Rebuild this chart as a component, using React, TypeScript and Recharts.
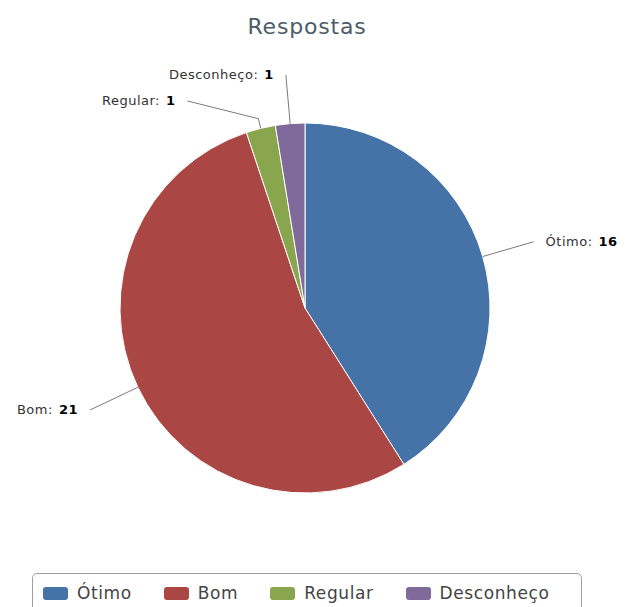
import { PieChart, Pie, Cell, Legend } from 'recharts';

const categories = ['Ótimo', 'Bom', 'Regular', 'Desconheço'];
const counts = [16, 21, 1, 1];
const colors = ['#4572A7', '#AA4643', '#89A54E', '#80699B'];

const data = categories.map((name, i) => ({ name, value: counts[i] }));

const RADIAN = Math.PI / 180;
const LABEL_DIST = 53; // distancia do rótulo além do raio
const LABEL_GAP = 26;
const LABEL_TOP = 75;

// posição dos rótulos no estilo Highcharts (evita sobreposição por lado)
function labelLayout(cx: number, cy: number, r: number) {
  const total = counts.reduce((a, b) => a + b, 0);
  const rr = r + LABEL_DIST;
  let acc = 0;
  const items = counts.map((v, i) => {
    const mid = 90 - ((acc + v / 2) / total) * 360;
    acc += v;
    const rad = -mid * RADIAN;
    return {
      i,
      left: Math.cos(rad) < 0,
      nx: cx + rr * Math.cos(rad),
      ny: cy + rr * Math.sin(rad),
      x: 0,
      y: 0,
    };
  });
  [true, false].forEach((side) => {
    const group = items.filter((it) => it.left === side).sort((a, b) => a.ny - b.ny);
    let prev = -Infinity;
    group.forEach((it) => {
      it.y = Math.max(it.ny, prev + LABEL_GAP, LABEL_TOP);
      prev = it.y;
      if (Math.abs(it.y - it.ny) > 10) {
        const dy = it.y - cy;
        const dx = Math.sqrt(Math.max(rr * rr - dy * dy, 0));
        it.x = side ? cx - dx : cx + dx;
      } else {
        it.x = it.nx;
      }
    });
  });
  return items;
}

const renderLabel = (props: any) => {
  const { cx, cy, midAngle, outerRadius, index, name, value } = props;
  const lay = labelLayout(cx, cy, outerRadius)[index];
  const rad = -midAngle * RADIAN;
  const ex = cx + outerRadius * Math.cos(rad);
  const ey = cy + outerRadius * Math.sin(rad);
  const bx = cx + (outerRadius + 10) * Math.cos(rad);
  const by = cy + (outerRadius + 10) * Math.sin(rad);
  return (
    <g>
      <polyline
        points={`${ex},${ey} ${bx},${by} ${lay.x},${lay.y}`}
        stroke="#7a7a7a"
        strokeWidth={1}
        fill="none"
      />
      <text
        x={lay.left ? lay.x - 12 : lay.x + 12}
        y={lay.y}
        dy={4}
        textAnchor={lay.left ? 'end' : 'start'}
        fontSize={13}
        letterSpacing={0.5}
        fontFamily="DejaVu Sans, Verdana, sans-serif"
        fill="#333"
      >
        {name}:
        <tspan dx={6} fontWeight="bold" fill="#000">{value}</tspan>
      </text>
    </g>
  );
};

// legenda na ordem original das categorias
const renderLegend = () => (
  <div
    style={{
      border: '1px solid #a0a0a0',
      borderRadius: 5,
      height: 40,
      boxSizing: 'border-box',
      display: 'flex',
      alignItems: 'flex-start',
      paddingLeft: 10,
      paddingTop: 13,
      background: '#fff',
    }}
  >
    {categories.map((cat, i) => (
      <div key={cat} style={{ display: 'flex', alignItems: 'center', marginRight: 32 }}>
        <div
          style={{
            width: 25,
            height: 13,
            borderRadius: 3,
            background: colors[i],
            marginRight: 9,
          }}
        />
        <span
          style={{
            fontFamily: 'DejaVu Sans, Verdana, sans-serif',
            fontSize: 17,
            letterSpacing: 0.6,
            color: '#444',
            lineHeight: '13px',
          }}
        >
          {cat}
        </span>
      </div>
    ))}
  </div>
);

export default function App() {
  return (
    <div
      style={{
        position: 'absolute',
        left: 0,
        top: 0,
        width: 633,
        height: 607,
        overflow: 'hidden',
        background: '#fff',
      }}
    >
      <div
        style={{
          position: 'absolute',
          left: 0,
          top: 14,
          width: 614,
          textAlign: 'center',
          fontFamily: 'DejaVu Sans, Verdana, sans-serif',
          fontSize: 22,
          letterSpacing: 0.8,
          color: '#4d5a68',
        }}
      >
        Respostas
      </div>
      <PieChart width={633} height={607} margin={{ top: 0, right: 0, bottom: 0, left: 0 }}>
        <Pie
          data={data}
          dataKey="value"
          nameKey="name"
          cx={305}
          cy={308}
          outerRadius={185}
          startAngle={90}
          endAngle={-270}
          stroke="#fff"
          strokeWidth={1}
          label={renderLabel}
          labelLine={false}
          isAnimationActive={false}
        >
          {data.map((d, i) => (
            <Cell key={d.name} fill={colors[i]} />
          ))}
        </Pie>
        <Legend
          content={renderLegend}
          wrapperStyle={{ position: 'absolute', left: 32, top: 573, width: 550 }}
        />
      </PieChart>
    </div>
  );
}
